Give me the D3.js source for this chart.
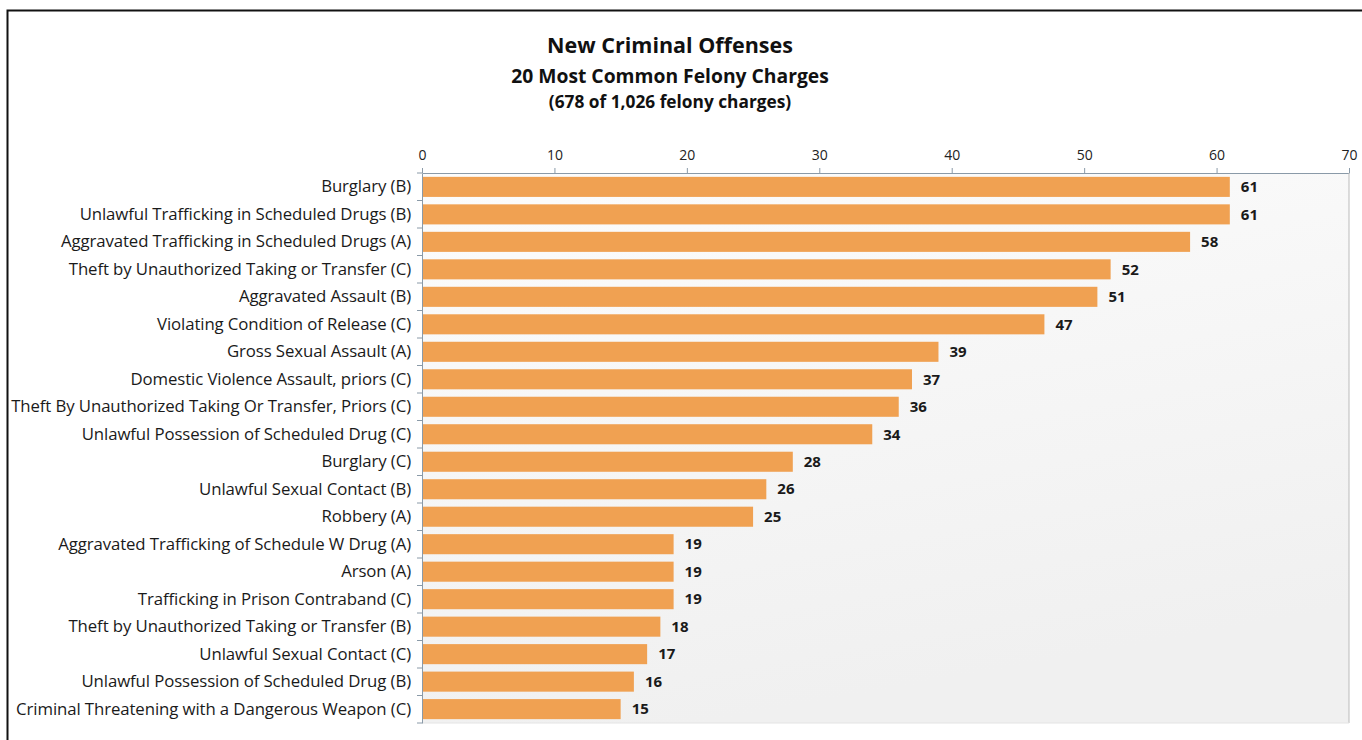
<!DOCTYPE html>
<html><head><meta charset="utf-8">
<script src="https://cdn.jsdelivr.net/npm/d3@7"></script>
<style>body{margin:0;background:#fff;}svg{display:block;font-family:"Open Sans",sans-serif;}</style>
</head><body>
<svg id="c" width="1362" height="740"></svg>
<script>
const categories = [
  "Burglary (B)",
  "Unlawful Trafficking in Scheduled Drugs (B)",
  "Aggravated Trafficking in Scheduled Drugs (A)",
  "Theft by Unauthorized Taking or Transfer (C)",
  "Aggravated Assault (B)",
  "Violating Condition of Release (C)",
  "Gross Sexual Assault (A)",
  "Domestic Violence Assault, priors (C)",
  "Theft By Unauthorized Taking Or Transfer, Priors (C)",
  "Unlawful Possession of Scheduled Drug (C)",
  "Burglary (C)",
  "Unlawful Sexual Contact (B)",
  "Robbery (A)",
  "Aggravated Trafficking of Schedule W Drug (A)",
  "Arson (A)",
  "Trafficking in Prison Contraband (C)",
  "Theft by Unauthorized Taking or Transfer (B)",
  "Unlawful Sexual Contact (C)",
  "Unlawful Possession of Scheduled Drug (B)",
  "Criminal Threatening with a Dangerous Weapon (C)"
];
const values = [61,61,58,52,51,47,39,37,36,34,28,26,25,19,19,19,18,17,16,15];
const tickValues = [0,10,20,30,40,50,60,70];
const titleLines = ["New Criminal Offenses","20 Most Common Felony Charges","(678 of 1,026 felony charges)"];

const svg = d3.select("#c");
const pL = 422, pR = 1349, pT = 173, pB = 723;
const FONT = "'Open Sans',sans-serif";

// outer frame
svg.append("rect").attr("x",7.5).attr("y",10.5).attr("width",1400).attr("height",800)
  .attr("fill","none").attr("stroke","#111").attr("stroke-width",2);

const defs = svg.append("defs");
const g = defs.append("linearGradient").attr("id","bg").attr("x1","0").attr("y1","0").attr("x2","0.3").attr("y2","1");
g.append("stop").attr("offset","0").attr("stop-color","#fcfcfc");
g.append("stop").attr("offset","1").attr("stop-color","#f0f0f0");
svg.append("rect").attr("x",pL).attr("y",pT).attr("width",pR-pL).attr("height",pB-pT).attr("fill","url(#bg)");

const x = d3.scaleLinear().domain([0,70]).range([pL,pR]);
const y = d3.scaleBand().domain(categories).range([pT,pB]).paddingInner(0.27).paddingOuter(0.14);

// titles
const tsz=[21.5,19.3,17.3], ty=[53,83,108];
titleLines.forEach((t,i)=>{
  svg.append("text").attr("x",670).attr("y",ty[i]).attr("text-anchor","middle")
    .attr("font-weight","bold").attr("font-size",tsz[i]).attr("fill","#111").text(t);
});

// top axis
const xAxis = d3.axisTop(x).tickValues(tickValues).tickSize(5).tickSizeOuter(0);
const ax = svg.append("g").attr("transform",`translate(0,${pT})`).call(xAxis);
ax.select(".domain").attr("stroke","#8a9aa8");
ax.selectAll(".tick line").attr("stroke","#8a9aa8");
ax.selectAll(".tick text").attr("font-size",14).attr("fill","#222").attr("dy","-0.35em").style("font-family",FONT);

// right border of plot
svg.append("line").attr("x1",pR).attr("x2",pR).attr("y1",pT).attr("y2",pB).attr("stroke","#bbb");
svg.append("line").attr("x1",pL).attr("x2",pR).attr("y1",pB).attr("y2",pB).attr("stroke","#e4e4e4");

// left axis
const yAxis = d3.axisLeft(y).tickSize(0).tickPadding(11);
const ay = svg.append("g").attr("transform",`translate(${pL},0)`).call(yAxis);
ay.select(".domain").attr("stroke","#8a9aa8");
ay.selectAll(".tick text").attr("font-size",16.8).attr("fill","#1a1a1a").style("font-family",FONT).style("letter-spacing","-0.1px");
// category separators
const seps = d3.range(categories.length+1);
svg.append("g").selectAll("line").data(seps).join("line")
  .attr("x1",pL-5).attr("x2",pL)
  .attr("y1",i=>pT + i*(pB-pT)/categories.length)
  .attr("y2",i=>pT + i*(pB-pT)/categories.length)
  .attr("stroke","#8a9aa8");

// bars
svg.append("g").selectAll("rect").data(values).join("rect")
  .attr("x",x(0)+1).attr("y",(d,i)=>y(categories[i]))
  .attr("width",d=>x(d)-x(0)-1).attr("height",y.bandwidth())
  .attr("fill","#f0a152");

// value labels
svg.append("g").selectAll("text").data(values).join("text")
  .attr("x",d=>x(d)+11).attr("y",(d,i)=>y(categories[i])+y.bandwidth()/2)
  .attr("dy","0.35em").attr("font-size",15).attr("font-weight","bold").attr("fill","#1a1a1a")
  .text(d=>d);
</script>
</body></html>
